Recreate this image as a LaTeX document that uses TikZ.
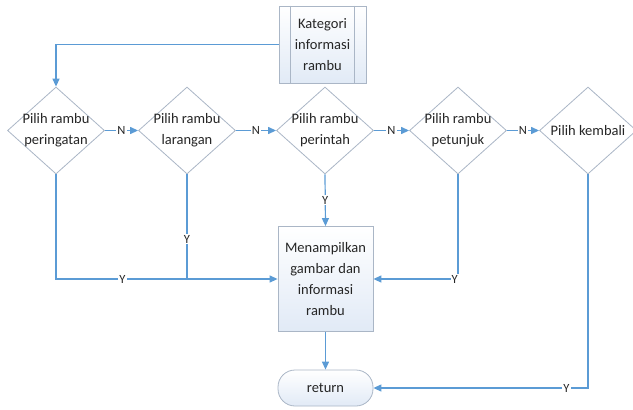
\documentclass[tikz,border=0pt]{standalone}
\usepackage{fontspec}
\setmainfont{Carlito}
\usetikzlibrary{arrows.meta,shapes.geometric}
\definecolor{garis}{RGB}{91,155,213}
\definecolor{tepi}{RGB}{170,182,198}
\definecolor{isi}{RGB}{225,234,246}
\tikzset{
	txt/.style={font=\fontsize{14.5}{21}\selectfont, text=black!85, align=center},
	dec/.style={diamond, draw=tepi, fill=white, line width=0.8pt, minimum width=97, minimum height=87, inner sep=0pt},
	proc/.style={rectangle, draw=tepi, top color=white, bottom color=isi, line width=0.8pt, inner sep=0pt},
	ret/.style={proc, rounded corners=17pt, minimum width=95, minimum height=36},
	flow/.style={draw=garis, line width=1.2pt, -{Triangle[length=8pt,width=7pt]}},
	plainline/.style={draw=garis, line width=1.2pt},
	lbl/.style={font=\fontsize{12.5}{14}\selectfont, text=black!85, fill=white, inner sep=1pt}
}
\begin{document}
\begin{tikzpicture}[x=1pt, y=-1pt]
	%%%%% START %%%%%
	\useasboundingbox (0, 0) rectangle (633, 410);
	
	\node[proc, minimum width=87, minimum height=77] (kat) at (322.5, 44.5) {};
	\node[txt] at (kat) {Kategori\\informasi\\rambu};
	\draw[tepi, line width=0.8pt] ([xshift=12pt]kat.north west) -- ([xshift=12pt]kat.south west);
	\draw[tepi, line width=0.8pt] ([xshift=-12pt]kat.north east) -- ([xshift=-12pt]kat.south east);
	
	\node[dec, label={[txt]center:Pilih rambu\\peringatan}] (d1) at (56, 130.5) {};
	\node[dec, label={[txt]center:Pilih rambu\\larangan}] (d2) at (187, 130.5) {};
	\node[dec, label={[txt]center:Pilih rambu\\perintah}] (d3) at (325, 130.5) {};
	\node[dec, label={[txt]center:Pilih rambu\\petunjuk}] (d4) at (458, 130.5) {};
	\node[dec, label={[txt]center:Pilih kembali}] (d5) at (588, 130.5) {};
	
	\node[proc, minimum width=95, minimum height=105] (tampil) at (325.5, 279) {};
	\node[txt] at (tampil) {Menampilkan\\gambar dan\\informasi\\rambu};
	
	\node[ret] (kembali) at (325.5, 388) {};
	\node[txt] at (kembali) {return};
	
	\draw[flow] (kat.west) -| (d1.north);
	
	\draw[flow] (d1.east) -- node[lbl] {N} (d2.west);
	\draw[flow] (d2.east) -- node[lbl] {N} (d3.west);
	\draw[flow] (d3.east) -- node[lbl] {N} (d4.west);
	\draw[flow] (d4.east) -- node[lbl] {N} (d5.west);
	
	\draw[flow] (d3.south) -- node[lbl] {Y} (tampil.north);
	\draw[flow] (d1.south) |- node[lbl, pos=0.65] {Y} (tampil.west);
	\draw[plainline] (d2.south) -- node[lbl, pos=0.62] {Y} (d2.south |- tampil.west);
	\draw[flow] (d4.south) |- node[lbl, pos=0.52] {Y} (tampil.east);
	
	\draw[flow] (tampil.south) -- (kembali.north);
	\draw[flow] (d5.south) |- node[lbl, pos=0.55] {Y} (kembali.east);
	%%%%% END %%%%%
\end{tikzpicture}
\end{document}
